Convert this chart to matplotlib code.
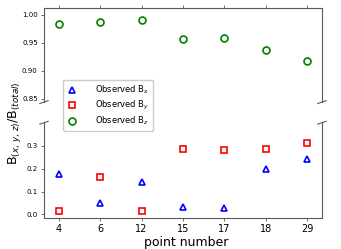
import numpy as np
import matplotlib.pyplot as plt

points = ["4", "6", "12", "15", "17", "18", "29"]
bx = [0.176, 0.048, 0.143, 0.033, 0.029, 0.197, 0.240]
by = [0.013, 0.164, 0.017, 0.287, 0.282, 0.287, 0.313]
bz = [0.984, 0.986, 0.990, 0.957, 0.959, 0.937, 0.918]

fig = plt.figure(figsize=(3.41, 2.49), dpi=100)
ax_top = fig.add_axes([0.129, 0.59, 0.815, 0.376])
ax_bot = fig.add_axes([0.129, 0.124, 0.815, 0.383])

x = np.arange(len(points))
mk = dict(linestyle="none", markerfacecolor="none", markersize=5,
          markeredgewidth=1.2)
for ax in (ax_top, ax_bot):
    ax.plot(x, bx, "^", color="b", label="Observed B$_x$", **mk)
    ax.plot(x, by, "s", color="r", label="Observed B$_y$", **mk)
    ax.plot(x, bz, "o", color="g", label="Observed B$_z$", **mk)
    ax.set_xlim(-0.36, 6.36)
    ax.set_xticks(x)
    for s in ax.spines.values():
        s.set_color("0.35")
    ax.tick_params(color="0.35", labelsize=5, width=0.6, length=2.5, pad=2)

ax_top.set_ylim(0.844, 1.011)
ax_bot.set_ylim(-0.016, 0.40)
ax_top.set_yticks([0.85, 0.90, 0.95, 1.00])
ax_bot.set_yticks([0.0, 0.1, 0.2, 0.3])

ax_top.spines["bottom"].set_visible(False)
ax_bot.spines["top"].set_visible(False)
ax_top.xaxis.tick_top()
ax_top.tick_params(labeltop=False)
ax_bot.xaxis.tick_bottom()
ax_bot.set_xticklabels(points)
ax_bot.tick_params(axis="x", labelsize=7, pad=1.5)

# break marks
d = 0.015
kw = dict(transform=ax_top.transAxes, color="0.35", clip_on=False, lw=0.8)
ax_top.plot((-d, +d), (-d, +d), **kw)
ax_top.plot((1 - d, 1 + d), (-d, +d), **kw)
kw.update(transform=ax_bot.transAxes)
ax_bot.plot((-d, +d), (1 - d, 1 + d), **kw)
ax_bot.plot((1 - d, 1 + d), (1 - d, 1 + d), **kw)

handles, labels = ax_top.get_legend_handles_labels()
fig.legend(handles, labels, loc="upper left", bbox_to_anchor=(0.185, 0.68),
           fontsize=6, handletextpad=2.2, borderpad=0.45, labelspacing=0.35,
           handlelength=1.2, borderaxespad=0, framealpha=1.0)

fig.text(0.545, 0.026, "point number", fontsize=9, ha="center",
         va="center")
fig.text(0.042, 0.505, "B$_{(x,\\,y,\\,z)}$/B$_{(total)}$", rotation=90,
         fontsize=9, va="center", ha="center")

fig.savefig("out.png", dpi=100)
